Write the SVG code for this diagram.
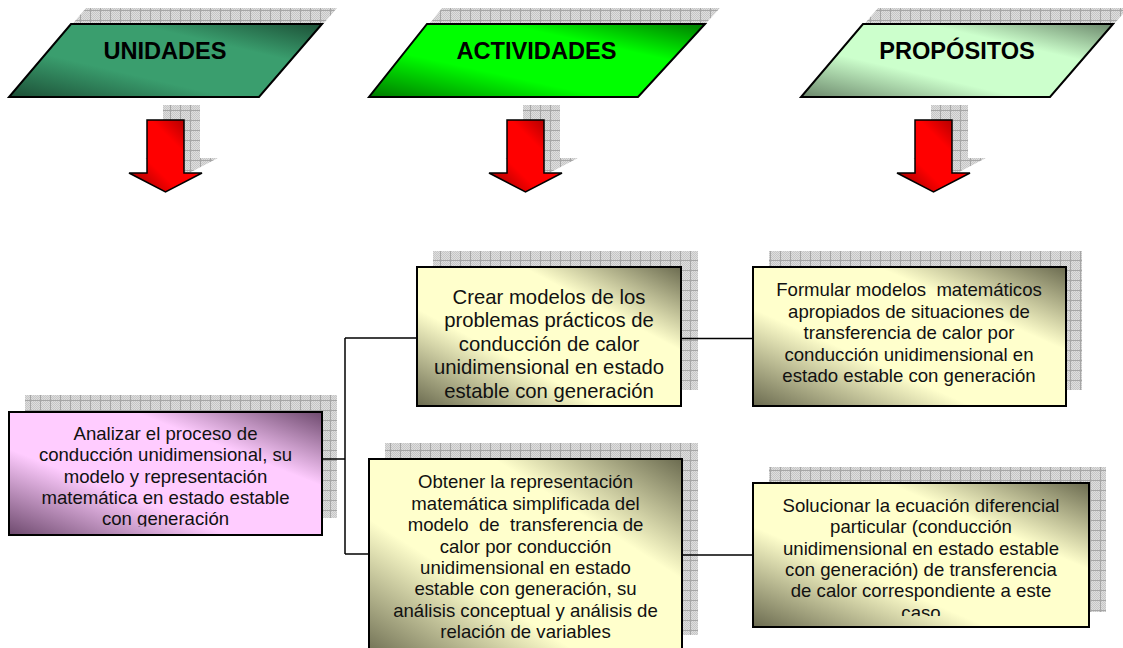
<svg xmlns="http://www.w3.org/2000/svg" width="1123" height="648" viewBox="0 0 1123 648">
<style>
.title{font-family:"Liberation Sans",Arial,sans-serif;font-weight:bold;font-size:23.6px;fill:#000;text-anchor:middle}
.body{font-family:"Liberation Sans",Arial,sans-serif;font-size:18.6px;fill:#111;text-anchor:middle;white-space:pre}
.big{font-size:20.3px}
.shape{stroke:#000;stroke-width:2}
.arrow{stroke:#000;stroke-width:1.5}
.shadow{fill:url(#grid);stroke:none}
.conn{stroke:#000;stroke-width:1.5;fill:none}
</style>
<defs>
<pattern id="dots" width="2" height="2" patternUnits="userSpaceOnUse">
<rect width="2" height="2" fill="#dedede"/>
<rect width="1" height="1" fill="#c6c6c6"/>
<rect x="1" y="1" width="1" height="1" fill="#c6c6c6"/>
</pattern>
<pattern id="grid" width="10" height="10" patternUnits="userSpaceOnUse">
<rect width="10" height="10" fill="url(#dots)"/>
<path d="M0 0.5H10M0.5 0V10" stroke="#a6a6a6" stroke-width="1"/>
</pattern>
<linearGradient id="gUni" x1="0" y1="1" x2="1" y2="0">
<stop offset="0" stop-color="#1c4f36"/><stop offset="0.35" stop-color="#3a9e6e"/><stop offset="0.7" stop-color="#3a9e6e"/><stop offset="1" stop-color="#1c4f36"/>
</linearGradient>
<linearGradient id="gAct" x1="0" y1="1" x2="1" y2="0">
<stop offset="0" stop-color="#007a00"/><stop offset="0.35" stop-color="#00ff00"/><stop offset="0.7" stop-color="#00ff00"/><stop offset="1" stop-color="#007a00"/>
</linearGradient>
<linearGradient id="gPro" x1="0" y1="1" x2="1" y2="0">
<stop offset="0" stop-color="#6b876b"/><stop offset="0.35" stop-color="#ccffcc"/><stop offset="0.7" stop-color="#ccffcc"/><stop offset="1" stop-color="#6b876b"/>
</linearGradient>
<linearGradient id="gRed" x1="0" y1="1" x2="1" y2="0">
<stop offset="0" stop-color="#8b0000"/><stop offset="0.35" stop-color="#ff0000"/><stop offset="0.65" stop-color="#ff0000"/><stop offset="1" stop-color="#8b0000"/>
</linearGradient>
<linearGradient id="gPink" x1="0" y1="1" x2="1" y2="0">
<stop offset="0" stop-color="#6e4a6e"/><stop offset="0.35" stop-color="#ffccff"/><stop offset="0.7" stop-color="#ffccff"/><stop offset="1" stop-color="#6e4a6e"/>
</linearGradient>
<linearGradient id="gYel" x1="0" y1="1" x2="1" y2="0">
<stop offset="0" stop-color="#6b6b50"/><stop offset="0.35" stop-color="#ffffcc"/><stop offset="0.7" stop-color="#ffffcc"/><stop offset="1" stop-color="#6b6b50"/>
</linearGradient>
<clipPath id="clipLeft"><rect x="9" y="412" width="313" height="114.5"/></clipPath>
<clipPath id="clipSol"><rect x="753" y="483" width="336" height="133"/></clipPath>
</defs>

<g id="unidades">
<polygon class="shadow" points="86,8 337,8 274,81 24,81"/>
<polygon class="shape" fill="url(#gUni)" points="71,24 322,24 259,97 9,97"/>
<text class="title" x="165" y="59">UNIDADES</text>
</g>
<g id="actividades">
<polygon class="shadow" points="442,8 720,8 653,81 384,81"/>
<polygon class="shape" fill="url(#gAct)" points="427,24 705,24 638,97 369,97"/>
<text class="title" x="536.5" y="59">ACTIVIDADES</text>
</g>
<g id="propositos">
<polygon class="shadow" points="878,8 1128,8 1065,81 816,81"/>
<polygon class="shape" fill="url(#gPro)" points="863,24 1113,24 1050,97 801,97"/>
<text class="title" x="957" y="59">PROPÓSITOS</text>
</g>

<g id="arrow-unidades">
<polygon class="shadow" points="163,105 200,105 200,158 218,158 181.5,177 145,158 163,158"/>
<polygon class="arrow" fill="url(#gRed)" points="147,120 184,120 184,173 202,173 165.5,192 129,173 147,173"/>
</g>
<g id="arrow-actividades">
<polygon class="shadow" points="523,105 560,105 560,158 578,158 541.5,177 505,158 523,158"/>
<polygon class="arrow" fill="url(#gRed)" points="507,120 544,120 544,173 562,173 525.5,192 489,173 507,173"/>
</g>
<g id="arrow-propositos">
<polygon class="shadow" points="931,105 968,105 968,158 986,158 949.5,177 913,158 931,158"/>
<polygon class="arrow" fill="url(#gRed)" points="915,120 952,120 952,173 970,173 933.5,192 897,173 915,173"/>
</g>

<g id="unidad-analizar">
<rect class="shadow" x="25" y="395" width="312" height="123"/>
<rect class="shape" fill="url(#gPink)" x="9" y="412" width="313" height="123"/>
<g clip-path="url(#clipLeft)">
<text class="body" x="165.5" y="440">Analizar el proceso de</text>
<text class="body" x="165.5" y="461.3">conducción unidimensional, su</text>
<text class="body" x="165.5" y="482.6">modelo y representación</text>
<text class="body" x="165.5" y="503.9">matemática en estado estable</text>
<text class="body" x="165.5" y="525.2">con generación</text>
</g>
</g>

<g id="actividad-crear">
<rect class="shadow" x="433" y="251" width="265" height="139"/>
<rect class="shape" fill="url(#gYel)" x="417" y="267" width="264" height="139"/>
<text class="body big" x="549" y="303.5">Crear modelos de los</text>
<text class="body big" x="549" y="327">problemas prácticos de</text>
<text class="body big" x="549" y="350.5">conducción de calor</text>
<text class="body big" x="549" y="374">unidimensional en estado</text>
<text class="body big" x="549" y="397.5">estable con generación</text>
</g>

<g id="actividad-obtener">
<rect class="shadow" x="385" y="443" width="313" height="192"/>
<rect class="shape" fill="url(#gYel)" x="369" y="459" width="313" height="200"/>
<text class="body" x="525.5" y="488.3">Obtener la representación</text>
<text class="body" x="525.5" y="509.7">matemática simplificada del</text>
<text class="body" x="525.5" y="531.1">modelo  de  transferencia de</text>
<text class="body" x="525.5" y="552.5">calor por conducción</text>
<text class="body" x="525.5" y="573.9">unidimensional en estado</text>
<text class="body" x="525.5" y="595.3">estable con generación, su</text>
<text class="body" x="525.5" y="616.7">análisis conceptual y análisis de</text>
<text class="body" x="525.5" y="638.1">relación de variables</text>
</g>

<g id="proposito-formular">
<rect class="shadow" x="769" y="251" width="313" height="139"/>
<rect class="shape" fill="url(#gYel)" x="753" y="267" width="313" height="139"/>
<text class="body" x="909" y="296">Formular modelos  matemáticos</text>
<text class="body" x="909" y="317.5">apropiados de situaciones de</text>
<text class="body" x="909" y="339">transferencia de calor por</text>
<text class="body" x="909" y="360.5">conducción unidimensional en</text>
<text class="body" x="909" y="382">estado estable con generación</text>
</g>

<g id="proposito-solucionar">
<rect class="shadow" x="769" y="467" width="337" height="145"/>
<rect class="shape" fill="url(#gYel)" x="753" y="483" width="336" height="144"/>
<g clip-path="url(#clipSol)">
<text class="body" x="921" y="512">Solucionar la ecuación diferencial</text>
<text class="body" x="921" y="533.3">particular (conducción</text>
<text class="body" x="921" y="554.6">unidimensional en estado estable</text>
<text class="body" x="921" y="575.9">con generación) de transferencia</text>
<text class="body" x="921" y="597.2">de calor correspondiente a este</text>
<text class="body" x="921" y="618.5">caso</text>
</g>
</g>

<g id="connectors">
<path class="conn" d="M322 459H345"/>
<path class="conn" d="M345 338V554"/>
<path class="conn" d="M345 338H417"/>
<path class="conn" d="M345 554H369"/>
<path class="conn" d="M681 338.5H753"/>
<path class="conn" d="M682 555H753"/>
</g>
</svg>
